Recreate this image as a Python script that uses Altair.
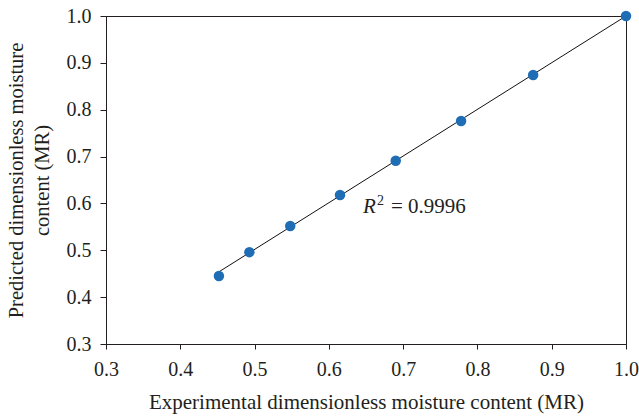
import altair as alt
import pandas as pd

# Data
exp_mr = [0.452, 0.493, 0.548, 0.615, 0.690, 0.778, 0.875, 1.0]
pred_mr = [0.445, 0.496, 0.552, 0.618, 0.691, 0.776, 0.874, 1.0]
fit_x = [0.452, 1.0]
fit_y = [0.454, 1.0]
tick_vals = [0.3, 0.4, 0.5, 0.6, 0.7, 0.8, 0.9, 1.0]
ann_x = [0.646]
ann_y = [0.58]
r_text = ["R"]
sup_text = ["2"]
r2_text = ["= 0.9996"]

FONT = "Liberation Serif"
INK = "#231f20"

pts = pd.DataFrame({"x": exp_mr, "y": pred_mr})
fit = pd.DataFrame({"x": fit_x, "y": fit_y})
ann = pd.DataFrame({"x": ann_x, "y": ann_y, "r": r_text, "s": sup_text, "t": r2_text})

xscale = alt.Scale(domain=[0.3, 1.0], nice=False, zero=False)
yscale = alt.Scale(domain=[0.3, 1.0], nice=False, zero=False)

xaxis = alt.Axis(
    values=tick_vals, format=".1f", grid=False, tickSize=5, labelPadding=10,
    labelFlush=False, labelOverlap=False,
    labelFont=FONT, labelFontSize=20, labelColor=INK,
    titleFont=FONT, titleFontSize=21, titleFontWeight="normal", titleColor=INK,
    titleBaseline="alphabetic", titleX=260, titleY=64,
    domainColor=INK, tickColor=INK,
)
yaxis = alt.Axis(
    values=tick_vals, format=".1f", grid=False, tickSize=6, labelPadding=9,
    labelFlush=False, labelOverlap=False,
    labelFont=FONT, labelFontSize=20, labelColor=INK,
    titleFont=FONT, titleFontSize=20.5, titleFontWeight="normal", titleColor=INK,
    titleBaseline="alphabetic", titleAlign="center", titleX=-84, titleY=164,
    titleLineHeight=26, domainColor=INK, tickColor=INK,
)

line = alt.Chart(fit).mark_line(color="#111111", strokeWidth=1).encode(
    x=alt.X("x:Q", scale=xscale, axis=xaxis,
            title="Experimental dimensionless moisture content (MR)"),
    y=alt.Y("y:Q", scale=yscale, axis=yaxis,
            title=["Predicted dimensionless moisture", "content (MR)"]),
)

points = alt.Chart(pts).mark_circle(size=110, color="#1f6db5", opacity=1).encode(
    x=alt.X("x:Q", scale=xscale),
    y=alt.Y("y:Q", scale=yscale),
)

r_mark = alt.Chart(ann).mark_text(
    font=FONT, fontSize=21, fontStyle="italic", color=INK,
    align="left", baseline="alphabetic",
).encode(x=alt.X("x:Q", scale=xscale), y=alt.Y("y:Q", scale=yscale), text="r:N")

sup_mark = alt.Chart(ann).mark_text(
    font=FONT, fontSize=14, color=INK, align="left", baseline="alphabetic",
    dx=14, dy=-8,
).encode(x=alt.X("x:Q", scale=xscale), y=alt.Y("y:Q", scale=yscale), text="s:N")

r2_mark = alt.Chart(ann).mark_text(
    font=FONT, fontSize=21, color=INK, align="left", baseline="alphabetic",
    dx=28,
).encode(x=alt.X("x:Q", scale=xscale), y=alt.Y("y:Q", scale=yscale), text="t:N")

chart = alt.layer(line, points, r_mark, sup_mark, r2_mark).properties(
    width=520, height=328,
    autosize=alt.AutoSizeParams(type="none"),
    padding={"left": 106, "top": 16, "right": 13, "bottom": 73},
    background="white",
).configure_view(stroke=INK, strokeWidth=1)

chart.save("out.html", embed_options={"renderer": "svg", "actions": False})
